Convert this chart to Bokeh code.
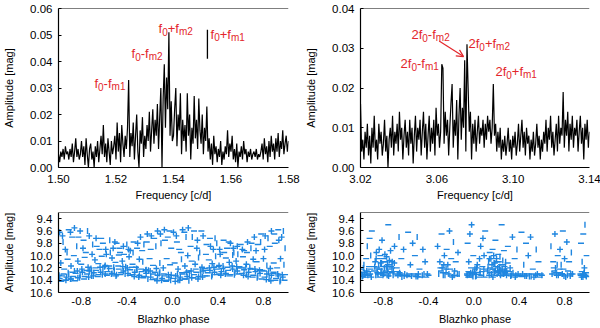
import math
from bokeh.plotting import figure
from bokeh.models import (Range1d, FixedTicker, NumeralTickFormatter, Span,
                          Label, Arrow, OpenHead, ColumnDataSource)
from bokeh.layouts import column, row
from bokeh.embed import file_html
from bokeh.resources import INLINE

# ---------------- data ----------------
FREQ1_START, FREQ1_STEP = 1.50, 0.0004
AMP1 = [
    0.005, 0.002, 0.006, 0.004, 0.007, 0.003, 0.008, 0.005, 0.006, 0.003,
    0.007, 0.004, 0.009, 0.002, 0.006, 0.011, 0.004, 0.007, 0.003, 0.005,
    0.010, 0.004, 0.008, 0.001, 0.011, 0.005, 0.000, 0.007, 0.009, 0.003,
    0.006, 0.000, 0.008, 0.004, 0.010, 0.002, 0.007, 0.012, 0.005, 0.016,
    0.004, 0.009, 0.002, 0.011, 0.006, 0.001, 0.010, 0.005, 0.008, 0.012,
    0.003, 0.017, 0.006, 0.013, 0.002, 0.016, 0.009, 0.004, 0.012, 0.007,
    0.015, 0.033, 0.004, 0.013, 0.008, 0.017, 0.003, 0.012, 0.020, 0.006,
    0.000, 0.014, 0.009, 0.019, 0.004, 0.012, 0.007, 0.016, 0.010, 0.021,
    0.006, 0.014, 0.022, 0.009, 0.018, 0.012, 0.024, 0.007, 0.019, 0.030,
    0.000, 0.026, 0.039, 0.015, 0.034, 0.022, 0.051, 0.012, 0.025, 0.010,
    0.012, 0.022, 0.030, 0.008, 0.020, 0.014, 0.028, 0.005, 0.018, 0.010,
    0.016, 0.006, 0.028, 0.012, 0.020, 0.003, 0.015, 0.009, 0.027, 0.011,
    0.018, 0.007, 0.026, 0.014, 0.009, 0.020, 0.005, 0.015, 0.010, 0.023,
    0.006, 0.011, 0.003, 0.009, 0.001, 0.012, 0.005, 0.008, 0.002, 0.007,
    0.004, 0.010, 0.001, 0.006, 0.003, 0.008, 0.005, 0.014, 0.004, 0.009,
    0.006, 0.012, 0.003, 0.007, 0.002, 0.009, 0.000, 0.006, 0.004, 0.008,
    0.003, 0.010, 0.005, 0.007, 0.002, 0.006, 0.004, 0.007, 0.003, 0.005,
    0.006, 0.004, 0.007, 0.003, 0.005, 0.004, 0.006, 0.009, 0.003, 0.011,
    0.005, 0.008, 0.002, 0.010, 0.004, 0.012, 0.006, 0.009, 0.003, 0.011,
    0.006, 0.013, 0.004, 0.010, 0.007, 0.014, 0.005, 0.009, 0.012, 0.006,
    0.010,
]

FREQ2_START, FREQ2_STEP = 3.02, 0.0006
AMP2 = [
    0.016, 0.004, 0.007, 0.002, 0.009, 0.005, 0.011, 0.003, 0.008, 0.001,
    0.010, 0.005, 0.013, 0.004, 0.007, 0.002, 0.011, 0.006, 0.009, 0.003,
    0.006, 0.012, 0.004, 0.008, 0.000, 0.007, 0.010, 0.005, 0.013, 0.003,
    0.009, 0.006, 0.011, 0.004, 0.014, 0.007, 0.010, 0.002, 0.008, 0.012,
    0.005, 0.009, 0.003, 0.012, 0.006, 0.010, 0.001, 0.008, 0.013, 0.004,
    0.010, 0.007, 0.012, 0.003, 0.009, 0.014, 0.005, 0.011, 0.002, 0.008,
    0.013, 0.004, 0.010, 0.006, 0.012, 0.003, 0.015, 0.008, 0.011, 0.005,
    0.009, 0.026, 0.025, 0.006, 0.014, 0.008, 0.012, 0.003, 0.010, 0.016,
    0.021, 0.005, 0.012, 0.008, 0.017, 0.002, 0.013, 0.020, 0.007, 0.015,
    0.010, 0.027, 0.004, 0.031, 0.020, 0.009, 0.014, 0.002, 0.011, 0.006,
    0.012, 0.004, 0.009, 0.013, 0.006, 0.010, 0.008, 0.012, 0.005, 0.011,
    0.007, 0.013, 0.009, 0.012, 0.006, 0.010, 0.021, 0.008, 0.011, 0.004,
    0.009, 0.005, 0.010, 0.002, 0.007, 0.004, 0.008, 0.003, 0.006, 0.010,
    0.004, 0.007, 0.002, 0.008, 0.005, 0.009, 0.003, 0.006, 0.011, 0.004,
    0.008, 0.012, 0.005, 0.009, 0.003, 0.010, 0.006, 0.008, 0.002, 0.007,
    0.004, 0.009, 0.003, 0.006, 0.011, 0.005, 0.008, 0.002, 0.007, 0.004,
    0.009, 0.006, 0.012, 0.004, 0.010, 0.007, 0.013, 0.005, 0.009, 0.003,
    0.007, 0.011, 0.004, 0.013, 0.006, 0.010, 0.008, 0.019, 0.005, 0.012,
    0.008, 0.014, 0.004, 0.011, 0.007, 0.013, 0.005, 0.010, 0.008, 0.012,
    0.004, 0.009, 0.013, 0.006, 0.010, 0.002, 0.011, 0.007, 0.012, 0.005,
    0.009,
]

# Blazhko-phase diagrams (phase 0..1; shown again at phase-1)
PHASE3 = [
    0.01, 0.03, 0.05, 0.07, 0.09, 0.11, 0.13, 0.15, 0.17, 0.19, 0.21, 0.23, 0.25, 0.27, 0.29,
    0.31, 0.33, 0.35, 0.37, 0.39, 0.41, 0.43, 0.45, 0.47, 0.49, 0.51, 0.53, 0.55, 0.57, 0.59,
    0.61, 0.63, 0.65, 0.67, 0.69, 0.71, 0.73, 0.75, 0.77, 0.79, 0.81, 0.83, 0.85, 0.87, 0.89,
    0.91, 0.93, 0.95, 0.97, 0.99,
    0.005, 0.025, 0.045, 0.065, 0.085, 0.105, 0.125, 0.145, 0.165, 0.185, 0.205, 0.225, 0.245,
    0.265, 0.285, 0.305, 0.325, 0.345, 0.365, 0.385, 0.405, 0.425, 0.445, 0.465, 0.485, 0.505,
    0.525, 0.545, 0.565, 0.585, 0.605, 0.625, 0.645, 0.665, 0.685, 0.705, 0.725, 0.745, 0.765,
    0.785, 0.805, 0.825, 0.845, 0.865, 0.885, 0.905, 0.925, 0.945, 0.965, 0.985,
    0.02, 0.05, 0.08, 0.11, 0.14, 0.17, 0.20, 0.23, 0.26, 0.29, 0.32, 0.35, 0.38, 0.41, 0.44,
    0.47, 0.50, 0.53, 0.56, 0.59, 0.62, 0.65, 0.68, 0.71, 0.74, 0.77, 0.80, 0.83, 0.86, 0.89,
    0.92, 0.95, 0.98,
    0.01, 0.04, 0.06, 0.09, 0.12, 0.14, 0.16, 0.19, 0.22, 0.24, 0.27, 0.30, 0.33, 0.36, 0.39,
    0.42, 0.45, 0.48, 0.51, 0.54, 0.57, 0.60, 0.63, 0.66, 0.69, 0.72, 0.75, 0.78, 0.81, 0.84,
    0.87, 0.90, 0.93, 0.96, 0.99,
    0.035, 0.075, 0.105, 0.135, 0.175, 0.215, 0.255, 0.295, 0.335, 0.375, 0.415, 0.455, 0.495,
    0.535, 0.575, 0.615, 0.655, 0.695, 0.735, 0.775, 0.815, 0.855, 0.895, 0.935, 0.975,
]
MAG3 = [
    10.37, 10.33, 10.40, 10.35, 10.30, 10.38, 10.34, 10.29, 10.36, 10.31, 10.27, 10.34, 10.30, 10.25, 10.33,
    10.28, 10.24, 10.31, 10.27, 10.22, 10.30, 10.26, 10.21, 10.29, 10.24, 10.31, 10.22, 10.28, 10.25, 10.20,
    10.29, 10.23, 10.31, 10.27, 10.22, 10.32, 10.26, 10.34, 10.29, 10.24, 10.35, 10.30, 10.38, 10.32, 10.27,
    10.37, 10.33, 10.40, 10.35, 10.31,
    10.32, 10.42, 10.30, 10.40, 10.28, 10.38, 10.27, 10.41, 10.25, 10.36, 10.22, 10.38, 10.24,
    10.35, 10.21, 10.33, 10.20, 10.34, 10.19, 10.31, 10.18, 10.32, 10.17, 10.30, 10.19, 10.33,
    10.17, 10.31, 10.18, 10.30, 10.20, 10.32, 10.19, 10.34, 10.21, 10.35, 10.22, 10.36, 10.24,
    10.38, 10.25, 10.39, 10.27, 10.41, 10.29, 10.40, 10.30, 10.42, 10.31, 10.40,
    10.12, 10.22, 10.06, 10.17, 10.25, 10.09, 10.14, 10.03, 10.19, 10.24, 10.07, 10.13, 10.01, 10.16, 10.21,
    10.04, 10.11, 9.99, 10.09, 10.18, 10.02, 10.14, 10.19, 10.06, 10.10, 10.23, 10.05, 10.16, 10.21, 10.12,
    10.20, 10.05, 10.15,
    9.62, 9.78, 9.90, 9.58, 9.70, 9.55, 9.85, 9.60, 9.75, 9.95, 9.68, 9.82, 9.72, 9.90, 9.80,
    9.98, 9.75, 9.88, 9.80, 9.95, 9.85, 9.82, 9.92, 9.78, 9.88, 9.70, 9.82, 9.65, 9.90, 9.72,
    9.60, 9.80, 9.58, 9.70, 9.88,
    9.68, 9.95, 9.62, 10.00, 9.70, 9.88, 9.60, 9.98, 9.85, 9.72, 9.90, 9.95, 9.78,
    9.88, 9.98, 9.90, 9.95, 9.80, 9.92, 9.78, 9.68, 9.85, 9.65, 9.75, 9.60,
]

PHASE4 = [
    0.000, 0.010, 0.020, 0.030, 0.035, 0.045, 0.050, 0.055, 0.060, 0.065, 0.075, 0.080, 0.085, 0.090, 0.095, 0.100,
    0.120, 0.130, 0.135, 0.140, 0.145, 0.150, 0.155, 0.160, 0.165, 0.170, 0.175, 0.180, 0.185, 0.190, 0.195,
    0.200, 0.205, 0.210, 0.215, 0.220, 0.225, 0.230, 0.235, 0.240, 0.245, 0.250, 0.255, 0.260, 0.265, 0.270,
    0.275, 0.280, 0.290, 0.300, 0.310, 0.320, 0.330, 0.340, 0.350, 0.360, 0.370, 0.380, 0.390,
    0.410, 0.420, 0.430, 0.440, 0.450, 0.460, 0.470, 0.480, 0.490, 0.500, 0.510, 0.520, 0.530, 0.550, 0.560,
    0.570, 0.580, 0.600,
    0.680, 0.690, 0.700, 0.710, 0.715, 0.720, 0.730, 0.740, 0.750, 0.760, 0.770, 0.780, 0.785, 0.790, 0.800,
    0.810, 0.820, 0.830, 0.840, 0.850, 0.860, 0.870,
    0.940, 0.945, 0.950, 0.955, 0.960, 0.965, 0.970, 0.975, 0.980, 0.985, 0.990, 0.995,
    0.005, 0.015, 0.025, 0.040, 0.070, 0.088,
    0.125, 0.138, 0.148, 0.158, 0.168, 0.178, 0.188, 0.198, 0.208, 0.218, 0.228, 0.238, 0.248,
    0.258, 0.268, 0.278, 0.288, 0.298, 0.315, 0.325, 0.345, 0.365, 0.385,
    0.425, 0.465, 0.505, 0.545, 0.590,
    0.705, 0.725, 0.735, 0.745, 0.755, 0.775, 0.795, 0.825, 0.855,
    0.942, 0.952, 0.962, 0.972, 0.992,
]
MAG4 = [
    10.30, 10.22, 10.33, 10.15, 10.28, 10.35, 10.05, 10.25, 9.85, 10.32, 10.18, 9.72, 10.30, 10.00, 10.35, 9.60,
    10.25, 10.10, 10.32, 9.95, 10.20, 10.05, 10.30, 10.15, 9.90, 10.22, 10.00, 10.28, 10.12, 9.75, 10.18,
    10.05, 10.30, 10.20, 9.98, 10.10, 10.25, 10.02, 10.32, 10.15, 9.50, 10.22, 10.08, 10.30, 9.92, 10.18,
    10.28, 10.10, 10.25, 9.85, 10.30, 10.20, 10.32, 9.70, 10.30, 10.05, 10.32, 9.90, 10.30,
    10.32, 9.62, 10.30, 10.15, 10.33, 9.80, 10.30, 10.00, 10.34, 9.70, 10.30, 10.22, 10.35, 9.90, 10.30,
    10.10, 10.35, 10.32,
    9.85, 10.30, 10.10, 10.25, 9.65, 10.20, 10.32, 10.00, 10.28, 9.90, 10.15, 10.30, 9.60, 10.22, 10.05,
    10.35, 9.78, 10.25, 10.10, 10.33, 9.95, 10.30,
    10.30, 9.80, 10.35, 10.10, 10.30, 9.65, 10.33, 10.20, 9.50, 10.32, 10.28, 10.00,
    10.27, 10.34, 10.20, 10.31, 10.26, 10.22,
    10.18, 10.05, 10.28, 10.22, 10.35, 10.12, 10.25, 10.32, 10.10, 10.27, 10.18, 10.24, 10.33,
    10.15, 10.26, 10.20, 10.32, 10.12, 10.26, 10.33, 10.28, 10.35, 10.33,
    10.34, 10.33, 10.34, 10.32, 10.30,
    10.20, 10.28, 10.15, 10.32, 10.22, 10.30, 10.33, 10.32, 10.30,
    10.32, 10.26, 10.35, 10.28, 10.34,
]

# peak labels: (pieces, x, y) ; pieces alternate normal / subscript
LABELS1 = [
    (["f", "0", "-f", "m1"], 1.5125, 0.0316),
    (["f", "0", "-f", "m2"], 1.5254, 0.0430),
    (["f", "0", "+f", "m2"], 1.5348, 0.0524),
    (["f", "0", "+f", "m1"], 1.5529, 0.0502),
]
MARK1 = (1.5518, 0.041, 0.052)   # vertical marker line beside f0+fm1
LABELS2 = [
    (["2f", "0", "-f", "m2"], 3.0467, 0.0334),
    (["2f", "0", "+f", "m2"], 3.0766, 0.0311),
    (["2f", "0", "-f", "m1"], 3.0410, 0.0261),
    (["2f", "0", "+f", "m1"], 3.0907, 0.0241),
]
ARROW2 = (3.0612, 0.0318, 3.0740, 0.0279)

# ---------------- style ----------------
FONT = "Liberation Sans"
RED = "#e3262b"
BLUE = "#1f86e0"
MAIN_PX, SUB_PX = 13, 10
CW = {"2": 0.556, "f": 0.278, "0": 0.556, "1": 0.556, "+": 0.584, "-": 0.333, "m": 0.833}


def text_w(s, px):
    return sum(CW.get(c, 0.55) for c in s) * px


def add_label(p, pieces, x, y):
    off = 0.0
    for k, s in enumerate(pieces):
        sub = (k % 2 == 1)
        px = SUB_PX if sub else MAIN_PX
        p.add_layout(Label(x=x, y=y, x_offset=off, y_offset=-3 if sub else 0, text=s,
                           text_font=FONT, text_font_size=f"{px}px", text_color=RED,
                           text_baseline="middle"))
        off += text_w(s, px)


def make_fig(fw, fh, xr, yr, bl, br, bt, bb):
    p = figure(frame_width=fw, frame_height=fh, x_range=xr, y_range=yr, output_backend="svg",
               toolbar_location=None, min_border_left=bl, min_border_right=br,
               min_border_top=bt, min_border_bottom=bb)
    p.xgrid.visible = False
    p.ygrid.visible = False
    p.outline_line_color = None
    p.background_fill_color = "white"
    p.border_fill_color = "white"
    return p


def style(p, xticks, yticks, xfmt, yfmt, xlabel, ylabel, x_std, x_lab_std):
    p.xaxis.ticker = FixedTicker(ticks=xticks)
    p.yaxis.ticker = FixedTicker(ticks=yticks)
    p.xaxis.formatter = NumeralTickFormatter(format=xfmt)
    p.yaxis.formatter = NumeralTickFormatter(format=yfmt)
    p.xaxis.axis_label = xlabel
    p.yaxis.axis_label = ylabel
    for ax in (p.xaxis, p.yaxis):
        ax.axis_label_text_font = FONT
        ax.axis_label_text_font_size = "11px"
        ax.axis_label_text_font_style = "normal"
        ax.axis_label_text_color = "black"
        ax.major_label_text_font = FONT
        ax.major_label_text_font_size = "11.5px"
        ax.major_label_text_color = "black"
        ax.minor_tick_line_color = None
        ax.axis_line_color = "black"
        ax.axis_line_width = 1.2
    p.xaxis.major_tick_in = 0
    p.xaxis.major_tick_out = 0
    p.yaxis.major_tick_in = 3
    p.yaxis.major_tick_out = 0
    p.xaxis.major_label_standoff = x_std
    p.xaxis.axis_label_standoff = x_lab_std
    p.yaxis.major_label_standoff = 6
    p.yaxis.axis_label_standoff = 12
    p.add_layout(Span(location=p.y_range.end, dimension="width",
                      line_color="black", line_width=1.2))


# ---------------- top-left spectrum ----------------
f1 = [FREQ1_START + FREQ1_STEP * i for i in range(len(AMP1))]
p1 = make_fig(230, 159, Range1d(1.50, 1.58), Range1d(0, 0.06), 57, 13, 8, 38)
p1.line(f1, AMP1, line_color="black", line_width=1.2)
style(p1, [1.50, 1.52, 1.54, 1.56, 1.58], [0, 0.01, 0.02, 0.03, 0.04, 0.05, 0.06],
      "0.00", "0.00", "Frequency [c/d]", "Amplitude [mag]", 7, 3)
p1.segment(x0=[MARK1[0]], y0=[MARK1[1]], x1=[MARK1[0]], y1=[MARK1[2]],
           line_color="black", line_width=1.3)
for pcs, x, y in LABELS1:
    add_label(p1, pcs, x, y)

# ---------------- top-right spectrum ----------------
f2 = [FREQ2_START + FREQ2_STEP * i for i in range(len(AMP2))]
p2 = make_fig(229, 159, Range1d(3.02, 3.14), Range1d(0, 0.04), 59, 12, 8, 38)
p2.line(f2, AMP2, line_color="black", line_width=1.2)
style(p2, [3.02, 3.06, 3.10, 3.14], [0, 0.01, 0.02, 0.03, 0.04],
      "0.00", "0.00", "Frequency [c/d]", "Amplitude [mag]", 7, 3)
for pcs, x, y in LABELS2:
    add_label(p2, pcs, x, y)
p2.add_layout(Arrow(end=OpenHead(size=7, line_color=RED, line_width=1.2),
                    x_start=ARROW2[0], y_start=ARROW2[1], x_end=ARROW2[2], y_end=ARROW2[3],
                    line_color=RED, line_width=1.2))


# ---------------- bottom phase diagrams ----------------
def phase_source(ph, mg):
    xs = list(ph) + [v - 1.0 for v in ph]
    ys = list(mg) + list(mg)
    mk, ang = [], []
    for i in range(len(xs)):
        r = i % 5
        if r in (1, 3):
            mk.append("cross"); ang.append(0.0)
        elif r == 2:
            mk.append("dash"); ang.append(math.pi / 2)
        else:
            mk.append("dash"); ang.append(0.0)
    return ColumnDataSource(dict(x=xs, y=ys, m=mk, a=ang))


def phase_fig(fw, bl, br, src):
    p = make_fig(fw, 80, Range1d(-1.0, 1.02), Range1d(10.6, 9.3), bl, br, 7, 36)
    p.scatter("x", "y", source=src, marker="m", angle="a", size=6,
              line_color=BLUE, line_width=1.4, fill_color=None)
    style(p, [-0.8, -0.4, 0.0, 0.4, 0.8], [9.4, 9.6, 9.8, 10.0, 10.2, 10.4, 10.6],
          "0.0", "0.0", "Blazhko phase", "Amplitude [mag]", 4, 5)
    return p


p3 = phase_fig(230, 57, 13, phase_source(PHASE3, MAG3))
p4 = phase_fig(229, 59, 12, phase_source(PHASE4, MAG4))

layout = column(row(p1, p2), row(p3, p4))
open("out.html", "w").write(file_html(layout, INLINE))
